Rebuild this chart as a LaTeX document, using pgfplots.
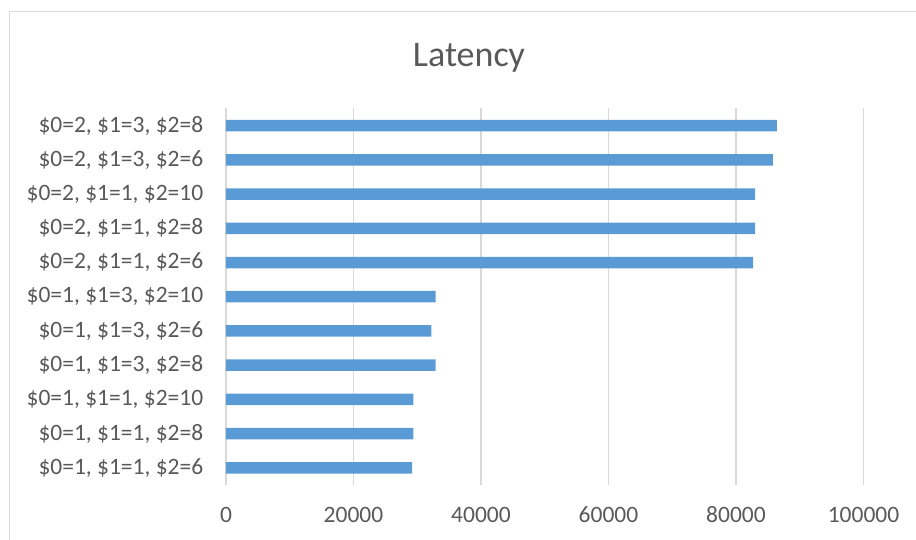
\documentclass[border=0pt]{standalone}
\usepackage{fontspec}
\setmainfont{Carlito}[Numbers=Lining]
\usepackage{pgfplots}
\pgfplotsset{compat=1.18}

\definecolor{barblue}{HTML}{5B9BD5}
\definecolor{gridgray}{HTML}{D9D9D9}
\definecolor{txtgray}{HTML}{595959}

\begin{document}
\begin{tikzpicture}[x=1pt,y=1pt]
\useasboundingbox (0,0) rectangle (916,540);
\clip (0,0) rectangle (916,540);
% chart border (cut off at right and bottom)
\draw[gridgray, line width=1pt] (9.5,-20) rectangle (940,528);
\node[font=\fontsize{36}{40}\selectfont, text=txtgray, anchor=base] at (469,473) {Latency};

\begin{axis}[
    at={(226pt,55pt)}, anchor=south west,
    scale only axis,
    width=637.5pt, height=376.5pt,
    xbar, bar width=11.5pt,
    xmin=0, xmax=100000,
    ymin=-0.5, ymax=10.5,
    scaled x ticks=false,
    xtick={0,20000,40000,60000,80000,100000},
    xticklabels={0,20000,40000,60000,80000,100000},
    ytick={0,...,10},
    yticklabels={
      {\$0=1, \$1=1, \$2=6},
      {\$0=1, \$1=1, \$2=8},
      {\$0=1, \$1=1, \$2=10},
      {\$0=1, \$1=3, \$2=8},
      {\$0=1, \$1=3, \$2=6},
      {\$0=1, \$1=3, \$2=10},
      {\$0=2, \$1=1, \$2=6},
      {\$0=2, \$1=1, \$2=8},
      {\$0=2, \$1=1, \$2=10},
      {\$0=2, \$1=3, \$2=6},
      {\$0=2, \$1=3, \$2=8}},
    xmajorgrids,
    major grid style={gridgray, line width=1.3pt},
    axis line style={draw=none},
    tick style={draw=none},
    ticklabel style={font=\fontsize{23.5}{28}\selectfont, text=txtgray},
    xticklabel style={anchor=base},
    xticklabel shift=37.5pt,
    yticklabel shift=15pt,
]
\addplot[fill=barblue, draw=none] coordinates {
  (29200,0) (29400,1) (29400,2) (32900,3) (32200,4) (32900,5)
  (82700,6) (83000,7) (83000,8) (85800,9) (86400,10)
};
\end{axis}
\end{tikzpicture}
\end{document}
